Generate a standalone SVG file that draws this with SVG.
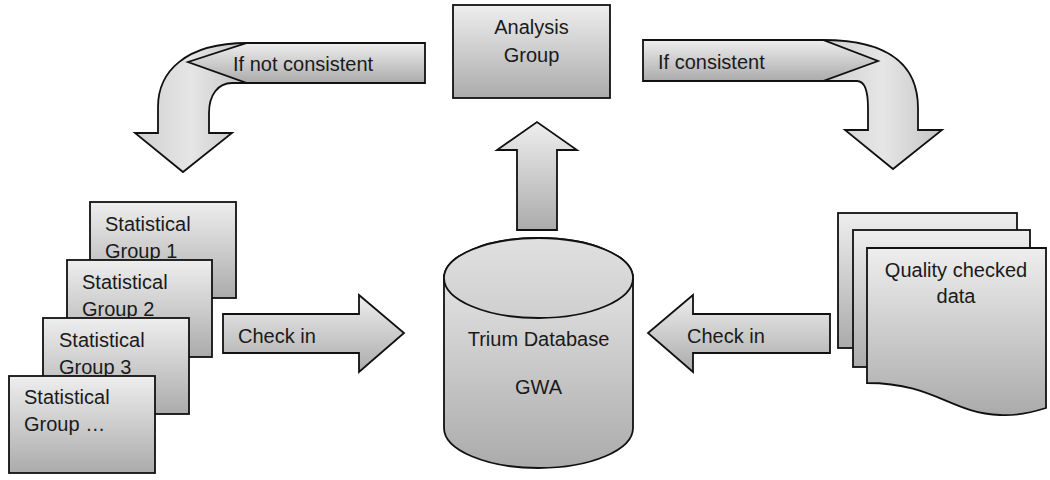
<svg xmlns="http://www.w3.org/2000/svg" width="1050" height="480" viewBox="0 0 1050 480">
<defs>
<linearGradient id="g" x1="0" y1="0" x2="0" y2="1">
<stop offset="0" stop-color="#eeeeee"/>
<stop offset="1" stop-color="#ababab"/>
</linearGradient>
<linearGradient id="gl" x1="0" y1="0" x2="1" y2="0">
<stop offset="0" stop-color="#cfcfcf"/>
<stop offset="0.5" stop-color="#e6e6e6"/>
<stop offset="1" stop-color="#c4c4c4"/>
</linearGradient>
<linearGradient id="gt" x1="0" y1="0" x2="0" y2="1">
<stop offset="0" stop-color="#e0e0e0"/>
<stop offset="1" stop-color="#cfcfcf"/>
</linearGradient>
</defs>
<style>
.s{stroke:#111;stroke-width:1.8;stroke-linejoin:miter}
.f{fill:url(#g)}
.c{fill:url(#gl)}
text{font-family:"Liberation Sans",Arial,sans-serif;font-size:20px;fill:#1a1a1a}
.m{text-anchor:middle}
</style>

<g id="analysis-group">
<rect class="s f" x="453" y="5" width="157" height="93"/>
<text class="m" x="531.5" y="34">Analysis</text>
<text class="m" x="531.5" y="62">Group</text>
</g>

<g id="stat-group-1">
<rect class="s f" x="90" y="202" width="146" height="96"/>
<text x="105" y="231">Statistical</text>
<text x="105" y="258">Group 1</text>
</g>
<g id="stat-group-2">
<rect class="s f" x="67" y="260" width="145" height="97"/>
<text x="82" y="289">Statistical</text>
<text x="82" y="316">Group 2</text>
</g>
<g id="stat-group-3">
<rect class="s f" x="43" y="318" width="146" height="96"/>
<text x="59" y="347">Statistical</text>
<text x="59" y="374">Group 3</text>
</g>
<g id="stat-group-n">
<rect class="s f" x="9" y="376" width="146" height="97"/>
<text x="24" y="404">Statistical</text>
<text x="24" y="431">Group …</text>
</g>

<g id="trium-database">
<path class="s f" d="M444,278 A94.5,40 0 0 1 633,278 L633,428 A94.5,40 0 0 1 444,428 Z"/>
<ellipse class="s" cx="538.5" cy="278" rx="94.5" ry="40" fill="url(#gt)"/>
<text class="m" x="538.5" y="346">Trium Database</text>
<text class="m" x="538.5" y="394">GWA</text>
</g>

<g id="quality-checked-data">
<rect class="s f" x="838" y="213" width="179" height="135"/>
<rect class="s f" x="853" y="230" width="177" height="137"/>
<path class="s f" d="M867,248 L1046,248 L1046,408 C1030,413 1015,416 1000,415 C950,413 935,383 867,383 Z"/>
<text class="m" x="956" y="277">Quality checked</text>
<text class="m" x="956" y="303">data</text>
</g>

<g id="connectors">
<g id="arrow-not-consistent">
<path class="s c" d="M247,43 C185,43 158,72 158,107 L158,133 L135,133 L183,172 L232,133 L209,133 L209,113 C209,95 218,83 232,83 L247,83 Z"/>
<path class="s f" d="M425,43 L247,43 L188,62 L247,83 L425,83 Z"/>
<text x="233" y="71">If not consistent</text>
</g>
<g id="arrow-consistent">
<path class="s c" d="M823,40 C895,40 918,70 918,108 L918,130 L942,130 L893,169 L845,130 L868,130 L868,108 C868,92 865,81 857,81 L823,81 Z"/>
<path class="s f" d="M643,40 L823,40 L878,61 L823,81 L643,81 Z"/>
<text x="658" y="69">If consistent</text>
</g>
<g id="arrow-up">
<path class="s f" d="M517,230 L517,150 L497,150 L537,122 L577,150 L557,150 L557,230 Z"/>
</g>
<g id="arrow-checkin-left">
<path class="s f" d="M223,314 L359,314 L359,295 L404,333 L359,372 L359,353 L223,353 Z"/>
<text x="238" y="343">Check in</text>
</g>
<g id="arrow-checkin-right">
<path class="s f" d="M830,314 L693,314 L693,295 L648,333 L693,372 L693,353 L830,353 Z"/>
<text x="687" y="343">Check in</text>
</g>
</g>
</svg>
